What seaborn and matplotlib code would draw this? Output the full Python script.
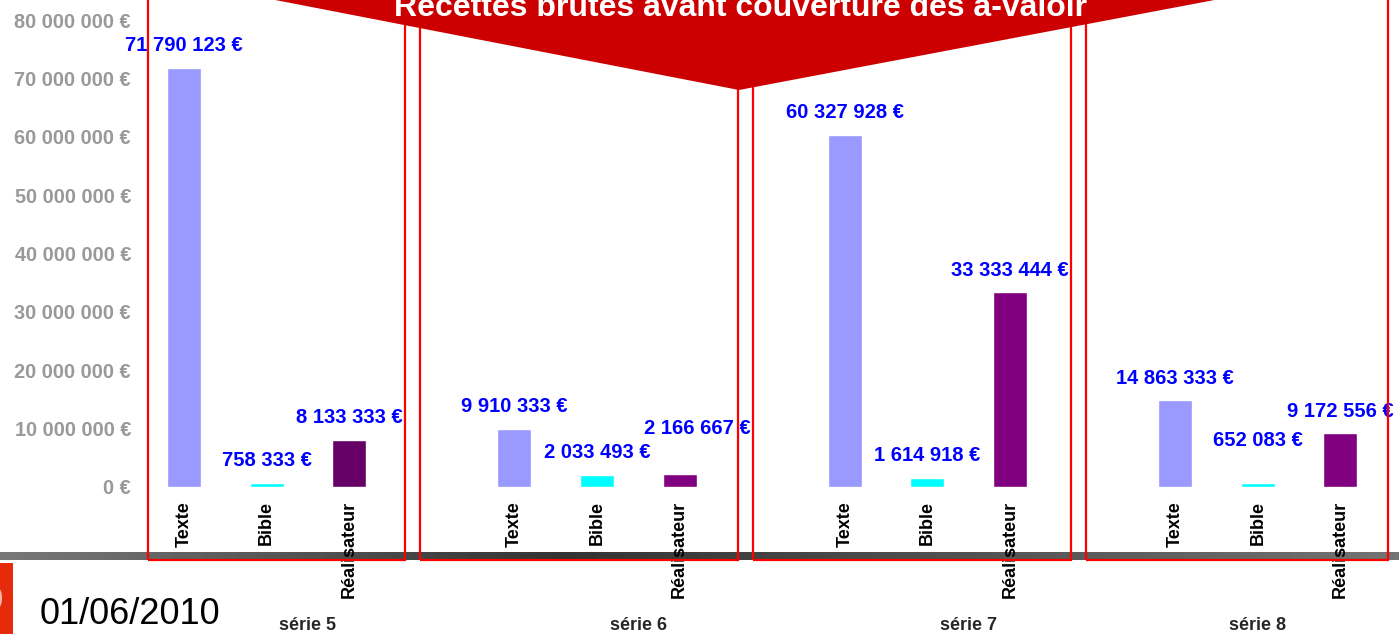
import numpy as np
import pandas as pd
import seaborn as sns
import matplotlib
matplotlib.use("Agg")
import matplotlib.pyplot as plt
from matplotlib.patches import Rectangle, Polygon, Ellipse
from matplotlib.transforms import blended_transform_factory

## values
series = ['série 5', 'série 6', 'série 7', 'série 8']
categories = ['Texte', 'Bible', 'Réalisateur']
texte = [71790123, 9910333, 60327928, 14863333]
bible = [758333, 2033493, 1614918, 652083]
realisateur = [8133333, 2166667, 33333444, 9172556]
yticks = [0, 10000000, 20000000, 30000000, 40000000, 50000000, 60000000, 70000000, 80000000]
title = 'Recettes brutes avant couverture des à-valoir'
date = '01/06/2010'

sns.set_style('white')
plt.rcParams['font.family'] = ['Liberation Sans', 'DejaVu Sans']

W, H = 1399, 634
fig = plt.figure(figsize=(W / 100, H / 100), dpi=100)

def fx(px):
    return px / W

def fy(py):
    return 1 - py / H

## one slot per bar, an empty slot between groups
rows = []
for i, s in enumerate(series):
    for j, (c, vals) in enumerate(zip(categories, [texte, bible, realisateur])):
        rows.append({'slot': 4 * i + j, 'value': vals[i], 'cat': c, 'bar': '%s %s' % (s, c)})
df = pd.DataFrame(rows)

cat_colors = {'Texte': '#9999FF', 'Bible': '#00FFFF', 'Réalisateur': '#800080'}
palette = [cat_colors[c] for c in df['cat']]
palette[2] = '#660066'  ## série 5 realisateur is darker

## label nudges as on the slide (points), default is 16pt straight up
label_offsets = {'série 6 Réalisateur': (13, 33), 'série 8 Bible': (0, 31)}

# gray gradient band behind everything
band = fig.add_axes([0, fy(560), 1, 8 / H], zorder=-1)
g = np.interp(np.linspace(0, 1, 300), [0, 0.4, 1], [0.47, 0.2, 0.45])
band.imshow(g[None, :], cmap='gray', vmin=0, vmax=1, aspect='auto')
band.set_axis_off()

ax = fig.add_axes([fx(142.7), fy(487), fx(1239), 467 / H], zorder=1)
ax.set_facecolor('none')
sns.barplot(data=df, x='slot', y='value', hue='bar', palette=palette, native_scale=True,
            dodge=False, width=0.41, errorbar=None, legend=False, saturation=1, ax=ax)
ax.set_xlim(-0.5, 14.5)
ax.set_ylim(0, 80000000)
for sp in ax.spines.values():
    sp.set_visible(False)

ax.set_yticks(yticks)
ax.set_yticklabels([('%s €' % format(v, ',')).replace(',', ' ') for v in yticks],
                   color='#999999', fontweight='bold', fontsize=14.3)
ax.set_xticks(df['slot'])
ax.set_xticklabels(df['cat'], rotation=90, va='top', ha='center',
                   fontweight='bold', fontsize=13, color='black')
ax.tick_params(axis='y', length=0, pad=8.4)
ax.tick_params(axis='x', length=0, pad=10)
ax.set_xlabel('')
ax.set_ylabel('')
ax.grid(False)

for _, r in df.iterrows():
    lab = ('%s €' % format(int(r['value']), ',')).replace(',', ' ')
    ax.annotate(lab, (r['slot'], r['value']), xytext=label_offsets.get(r['bar'], (0, 16)),
                textcoords='offset points', ha='center', va='center', color='#0000FF',
                fontweight='bold', fontsize=14.5, annotation_clip=False)

trans = blended_transform_factory(ax.transData, fig.transFigure)
for i, s in enumerate(series):
    xs = np.mean(np.arange(4 * i, min(4 * i + 4, 15)))
    ax.text(xs, fy(625), s, transform=trans, ha='center', va='center',
            fontweight='bold', fontsize=13)

# red frames around groups
for x0, x1 in [(148, 405), (420, 738), (753, 1071), (1086, 1388)]:
    fig.add_artist(Rectangle((fx(x0), fy(560)), fx(x1 - x0), 580 / H, transform=fig.transFigure,
                             fill=False, edgecolor='#FF0000', linewidth=1.6, zorder=3))

# banner
fig.add_artist(Polygon([(fx(265), fy(-2)), (fx(1225), fy(-2)), (fx(739), fy(90))],
                       closed=True, transform=fig.transFigure, facecolor='#CC0000',
                       edgecolor='none', zorder=4))
fig.text(fx(740), fy(16), title, ha='center', va='baseline', color='white',
         fontweight='bold', fontsize=23, zorder=5)

# logo and date
fig.add_artist(Rectangle((0, 0), fx(13), fy(563), transform=fig.transFigure,
                         facecolor='#E52B0B', edgecolor='none', zorder=3))
fig.add_artist(Ellipse((fx(-2), fy(598)), fx(8), 20 / H, transform=fig.transFigure,
                       facecolor='#F8B8A8', edgecolor='none', zorder=3))
fig.text(fx(40), fy(624), date, ha='left', va='baseline', fontsize=26, color='black')

fig.savefig('out.png', dpi=100)
